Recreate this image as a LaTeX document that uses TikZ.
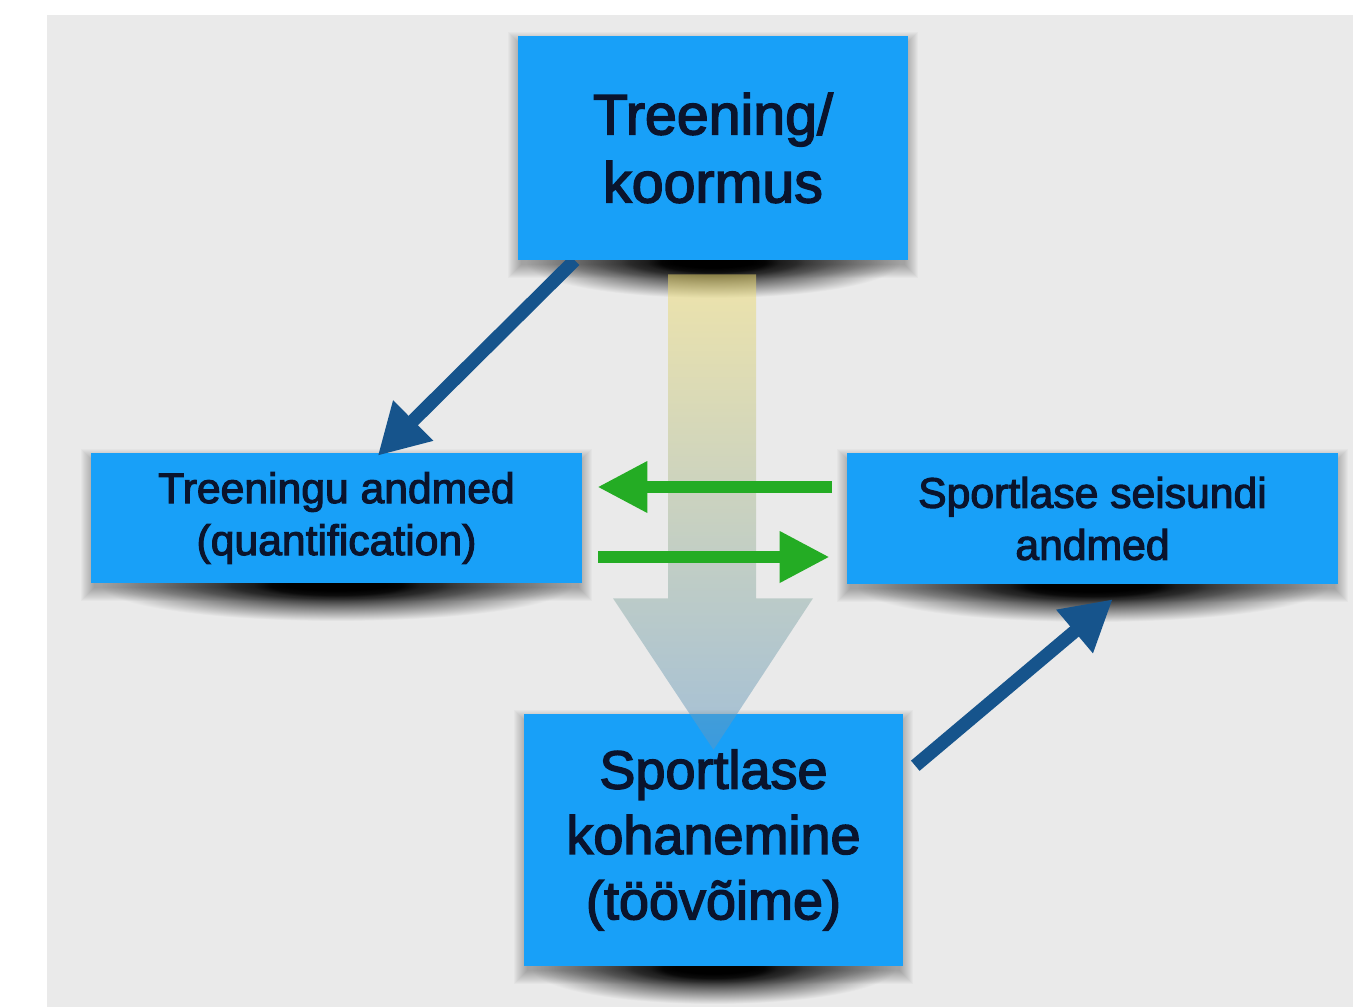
\documentclass[tikz,border=0pt]{standalone}
\usepackage{fontspec}
\setmainfont{Liberation Sans}[RawFeature={embolden=2.6}]
\usetikzlibrary{arrows.meta,calc}
\definecolor{bgc}{RGB}{234,234,234}
\definecolor{boxblue}{RGB}{24,160,248}
\definecolor{txt}{RGB}{10,20,45}
\definecolor{navy}{RGB}{22,84,140}
\definecolor{grn}{RGB}{36,172,36}
\definecolor{ytop}{RGB}{242,222,110}
\definecolor{bbot}{RGB}{95,150,195}
\pgfdeclareradialshading{boxshadow}{\pgfpoint{0bp}{0bp}}{color(0bp)=(black); color(7bp)=(black!92!bgc); color(15bp)=(black!50!bgc); color(25bp)=(bgc); color(50bp)=(bgc)}
\newcommand\myboxshadow[4]{%
  \shade[shading=boxshadow] ({(#1+#3)/2},{#4+2}) ellipse [x radius={(#3-#1)*0.48}, y radius=36];
  \foreach \i in {1,...,14}{%
    \fill[black,opacity=0.022] ({#1-\i+4},{#2-\i+10}) rectangle ({#3+\i-4},{#4+\i+4});
  }%
}
\tikzset{
  box/.style={rectangle, fill=boxblue, text=txt, align=center, inner sep=0pt},
  bigfont/.style={font=\fontsize{43}{51}\selectfont},
  midfont/.style={font=\fontsize{40.5}{49}\selectfont},
  smallfont/.style={font=\fontsize{32}{39}\selectfont},
  garrow/.style={draw=grn, line width=9.5pt, -{Triangle[length=37.5pt,width=36pt]}},
  barrow/.style={draw=navy, line width=10pt, -{Triangle[length=37.5pt,width=40pt]}}
}
\begin{document}
\begin{tikzpicture}[x=0.75pt,y=-0.75pt]
\fill[white] (0,0) rectangle (1353,1007);
\fill[bgc] (47,15) rectangle (1353,1007);
\useasboundingbox (0,0) rectangle (1353,1007);

% shadows
\myboxshadow{518}{36}{908}{260}
\myboxshadow{91}{453}{582}{583}
\myboxshadow{847}{453}{1338}{584}
\myboxshadow{524}{714}{903}{966}

\node[box, bigfont, minimum width=292.5pt, minimum height=168pt] (top) at (713,148) {Treening/\\koormus};
\node[box, smallfont, minimum width=368.25pt, minimum height=97.5pt] (left) at (336.5,518) {Treeningu andmed\\(quantification)};
\node[box, smallfont, minimum width=368.25pt, minimum height=98.25pt] (right) at (1092.5,518.5) {Sportlase seisundi\\andmed};
\node[box, midfont, minimum width=284.25pt, minimum height=189pt] (bottom) at (713.5,840) {Sportlase\\kohanemine\\(töövõime)};

% big translucent arrow
\shade[top color=ytop, bottom color=bbot, opacity=0.5]
  ($(top.south)+(-45,14)$) -- ($(top.south)+(43,14)$) -- ($(top.south)+(43,338)$)
  -- ($(top.south)+(100,338)$) -- ($(bottom.north)+(0,36)$) -- ($(top.south)+(-100,338)$)
  -- ($(top.south)+(-45,338)$) -- cycle;

% green arrows
\draw[garrow] ($(right.west)+(-15,-31.5)$) -- ($(left.east)+(15,-31)$);
\draw[garrow] ($(left.east)+(16,39)$) -- ($(right.west)+(-17,38.5)$);

% blue arrows
\begin{scope}
  \clip (0,0 |- top.south) rectangle (1353,1007);
  \draw[barrow] ($(top.south west)+(57,0)$) -- ($(left.north west)+(287,3)$);
\end{scope}
\coordinate (bstart) at ($(bottom.north east)+(12,52)$);
\draw[barrow] (bstart) -- ($(right.south west)+(266,15)$);
\end{tikzpicture}
\end{document}
